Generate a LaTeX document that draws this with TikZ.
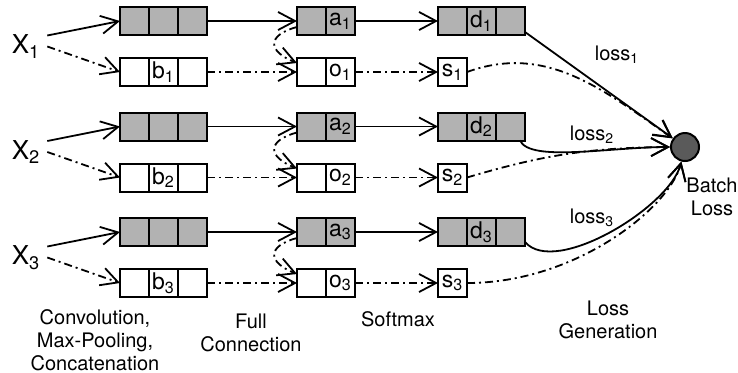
\documentclass[tikz,border=0pt]{standalone}
\usepackage{fontspec}
\setmainfont{TeX Gyre Heros}
\usetikzlibrary{arrows.meta,positioning}
\definecolor{cellgray}{RGB}{178,178,178}
\definecolor{lossgray}{RGB}{90,90,90}
\begin{document}
\begin{tikzpicture}[x=0.5pt,y=0.5pt,cell/.style={draw,line width=1pt,minimum width=14.5pt,minimum height=14pt,inner sep=0pt,outer sep=0pt,font=\fontsize{11.5}{13}\selectfont},gcell/.style={cell,fill=cellgray},wcell/.style={cell,fill=white},arr/.style={-{Straight Barb[length=8.5pt,width=9pt]},line width=0.9pt},darr/.style={arr,dash pattern=on 4pt off 2pt on 1pt off 2pt},lbl/.style={align=center,font=\fontsize{10}{11.5}\selectfont}]
\useasboundingbox (0,0) rectangle (738,372);
\foreach \i/\gy/\wy in {1/351/300,2/245.5/194.5,3/140/89}{
\node[font=\fontsize{13}{15}\selectfont] (x\i) at (26,{(\gy+\wy)/2}) {X\textsubscript{\i}};
\node[gcell] (gc\i a) at (134.5,\gy) {};
\node[gcell,right=0pt of gc\i a] (gc\i b) {};
\node[gcell,right=0pt of gc\i b] (gc\i c) {};
\node[wcell] (wc\i a) at (134.5,\wy) {};
\node[wcell,right=0pt of wc\i a] (wc\i b) {b\textsubscript{\i}};
\node[wcell,right=0pt of wc\i b] (wc\i c) {};
\node[gcell] (gf\i a) at (311.5,\gy) {};
\node[gcell,right=0pt of gf\i a] (gf\i b) {a\textsubscript{\i}};
\node[wcell] (wf\i a) at (311.5,\wy) {};
\node[wcell,right=0pt of wf\i a] (wf\i b) {o\textsubscript{\i}};
\node[gcell] (sm\i a) at (452.5,\gy) {};
\node[gcell,right=0pt of sm\i a] (sm\i b) {d\textsubscript{\i}};
\node[gcell,right=0pt of sm\i b] (sm\i c) {};
\node[wcell] (sw\i) at (452.5,\wy) {s\textsubscript{\i}};
\draw[arr] ([yshift=5.5pt]x\i.east)--(gc\i a.west);
\draw[darr] (x\i.east)--(wc\i a.west);
\draw[arr] (gc\i c)--(gf\i a);
\draw[arr] (gf\i b)--(sm\i a);
\draw[darr] (wc\i c)--(wf\i a);
\draw[darr] (wf\i b)--(sw\i);
\draw[darr] ([yshift=-3pt]gf\i a.west) .. controls +(-30,-8) and +(-30,12) .. ([yshift=4.5pt]wf\i a.west);
}
\node[circle,draw,fill=lossgray,line width=1pt,minimum size=14pt,inner sep=0pt] (bl) at (685,225) {};
\node[lbl] (bltxt) at (712,175) {Batch\\Loss};
\node[lbl] (l1) at (617,317) {loss\textsubscript{1}};
\node[lbl] (l2) at (592,237) {loss\textsubscript{2}};
\node[lbl] (l3) at (592,154) {loss\textsubscript{3}};
\draw[arr] ([yshift=1.5pt]sm1c.south east)--(bl);
\draw[darr] (sw1.east) to[out=20,in=145] (bl);
\draw[arr] ([xshift=-2.5pt]sm2c.south east) .. controls +(10,-22) and +(-60,0) .. (bl.west);
\draw[darr] (sw2.east) to[bend left=8] (bl);
\draw[arr] ([yshift=2pt]sm3c.south east) .. controls +(30,-35) and +(-15,-60) .. (bl);
\draw[darr] (sw3.east) .. controls +(110,0) and +(-15,-60) .. (bl);
\node[lbl] (conv) at (95,32) {Convolution,\\Max-Pooling,\\Concatenation};
\node[lbl] (fc) at (251,39) {Full\\Connection};
\node[lbl] (soft) at (398,53) {Softmax};
\node[lbl] (gen) at (608,52) {Loss\\Generation};
\end{tikzpicture}
\end{document}
